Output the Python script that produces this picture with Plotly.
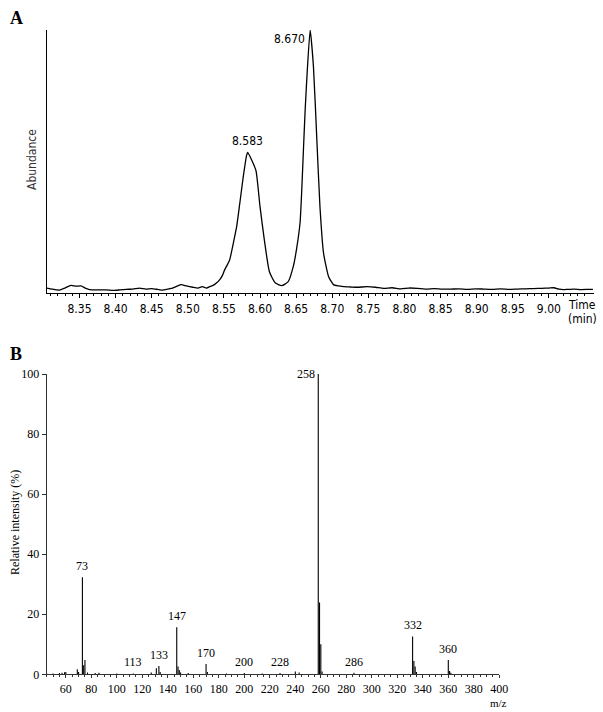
import plotly.graph_objects as go

# ---- panel A: total ion chromatogram ----
rt = [8.305, 8.312, 8.322, 8.330, 8.338, 8.345, 8.352, 8.358, 8.364, 8.375,
      8.387, 8.397, 8.406, 8.415, 8.424, 8.433, 8.442, 8.450, 8.458, 8.465,
      8.472, 8.479, 8.485, 8.491, 8.498, 8.507, 8.514, 8.520, 8.526, 8.531,
      8.535, 8.540, 8.544, 8.548, 8.551, 8.555, 8.558, 8.563, 8.5676, 8.572,
      8.5768, 8.5815, 8.583, 8.5884, 8.5944, 8.600, 8.606, 8.613, 8.621, 8.630,
      8.639, 8.646, 8.651, 8.6555, 8.6576, 8.6602, 8.6625, 8.6649, 8.6694, 8.674,
      8.6787, 8.683, 8.688, 8.695, 8.702, 8.709, 8.716, 8.725, 8.735, 8.748,
      8.760, 8.771, 8.783, 8.795, 8.806, 8.818, 8.830, 8.841, 8.852, 8.864,
      8.876, 8.887, 8.899, 8.910, 8.922, 8.933, 8.945, 8.956, 8.968, 8.979,
      8.990, 9.000, 9.007, 9.014, 9.020, 9.026, 9.035, 9.045, 9.055, 9.061]
abundance = [2.0, 1.6, 1.2, 2.0, 3.0, 2.7, 2.8, 2.0, 1.4, 1.3,
             1.3, 1.1, 1.3, 1.5, 1.6, 2.0, 1.6, 1.8, 1.5, 1.2,
             1.6, 2.0, 2.7, 3.3, 2.8, 2.3, 2.0, 2.5, 2.0, 2.6,
             3.0, 4.0, 5.1, 6.8, 8.9, 11.0, 12.7, 19.0, 25.3, 34.2,
             44.3, 52.5, 53.5, 50.6, 46.6, 32.9, 20.2, 8.2, 4.0, 2.9,
             4.4, 10.1, 17.5, 27.0, 38.0, 55.0, 69.6, 82.0, 100.0, 86.0,
             58.2, 32.9, 15.2, 6.3, 3.2, 2.8, 2.5, 2.4, 2.3, 2.5,
             2.3, 1.9, 2.1, 1.7, 2.0, 1.9, 1.6, 1.8, 1.6, 1.6,
             1.7, 1.5, 1.7, 1.6, 1.5, 1.7, 1.5, 1.6, 1.7, 1.8,
             1.9, 2.0, 2.1, 1.6, 1.4, 1.5, 1.6, 1.4, 1.5, 1.5]
peak_rt = [8.583, 8.6694]
peak_labels = ["8.583", "8.670"]
rt_ticks = [8.35, 8.40, 8.45, 8.50, 8.55, 8.60, 8.65, 8.70, 8.75, 8.80, 8.85, 8.90, 8.95, 9.00]

# ---- panel B: mass spectrum ----
mz = [45, 50, 55, 57, 59, 60, 69, 70, 73, 74, 75, 77, 83, 86, 100, 113, 127,
      131, 133, 134, 147, 148, 149, 150, 156, 170, 171, 186, 200, 214, 228,
      240, 243, 258, 259, 260, 261, 286, 332, 333, 334, 335, 360, 361, 362]
intensity = [0.3, 0.3, 0.4, 0.5, 0.7, 0.8, 1.7, 0.8, 32.3, 3.0, 4.8, 0.6, 0.4,
             0.5, 0.3, 0.3, 0.6, 2.0, 2.8, 0.8, 15.7, 2.6, 1.4, 0.6, 0.4, 3.4,
             0.8, 0.3, 0.4, 0.3, 0.4, 0.9, 0.6, 100.0, 23.9, 10.0, 0.9, 0.5,
             12.6, 4.4, 2.6, 0.8, 4.8, 1.1, 0.5]
labelled_ions = [73, 113, 133, 147, 170, 200, 228, 258, 286, 332, 360]

W, H = 603, 712
mono = "Liberation Sans Narrow, DejaVu Sans Condensed, Liberation Mono"
serif = "Liberation Serif, Times New Roman, serif"

fig = go.Figure()

fig.add_trace(go.Scatter(x=rt, y=abundance, mode="lines",
                         line=dict(color="black", width=1.3, shape="spline", smoothing=0.5),
                         xaxis="x", yaxis="y", showlegend=False, hoverinfo="skip"))

# stick spectrum
sx, sy = [], []
for m, v in zip(mz, intensity):
    sx += [m, m, None]
    sy += [0, v, None]
fig.add_trace(go.Scatter(x=sx, y=sy, mode="lines",
                         line=dict(color="black", width=1.1),
                         xaxis="x2", yaxis="y2", showlegend=False, hoverinfo="skip"))

ann = []
# chromatogram peak labels
for t, lab in zip(peak_rt, peak_labels):
    h = abundance[rt.index(t)]
    if h >= 99:
        ann.append(dict(x=t, y=h, xref="x", yref="y", text=lab, showarrow=False,
                        xanchor="right", yanchor="top", xshift=-3,
                        font=dict(family=mono, size=12, color="black")))
    else:
        ann.append(dict(x=t, y=h, xref="x", yref="y", text=lab, showarrow=False,
                        xanchor="center", yanchor="bottom", yshift=2,
                        font=dict(family=mono, size=12, color="black")))

# spectrum ion labels
for ion in labelled_ions:
    h = intensity[mz.index(ion)]
    if h >= 99:
        ann.append(dict(x=ion, y=h, xref="x2", yref="y2", text=str(ion), showarrow=False,
                        xanchor="right", yanchor="middle", xshift=-1,
                        font=dict(family=serif, size=12, color="black")))
    else:
        ann.append(dict(x=ion, y=h, xref="x2", yref="y2", text=str(ion), showarrow=False,
                        xanchor="center", yanchor="bottom", yshift=2,
                        font=dict(family=serif, size=12, color="black")))


def label(px, py, text, family, size, color="black", angle=0):
    # free text placed by pixel centre
    return dict(x=px / W, y=1 - py / H, xref="paper", yref="paper", text=text,
                xanchor="center", yanchor="middle", textangle=angle, showarrow=False,
                font=dict(family=family, size=size, color=color))


ann += [
    label(16, 18, "<b>A</b>", serif, 18),
    label(16, 354, "<b>B</b>", serif, 18),
    label(32, 160, "Abundance", mono, 12, "#333", -90),
    label(582, 305, "Time", mono, 12),
    label(582, 319, "(min)", mono, 12),
    label(15, 523, "Relative intensity (%)", serif, 12, angle=-90),
    label(498, 703, "m/z", serif, 11),
]

fig.update_layout(
    template="none",
    width=W, height=H,
    margin=dict(l=0, r=0, t=0, b=0, pad=0),
    paper_bgcolor="white", plot_bgcolor="white",
    annotations=ann,
    xaxis=dict(domain=[47 / W, 594 / W], range=[8.305, 9.0625], automargin=False,
               tickvals=rt_ticks, ticktext=["%.2f" % v for v in rt_ticks],
               ticks="outside", ticklen=4, tickwidth=1, tickcolor="black",
               minor=dict(tickvals=[round(8.31 + 0.01 * i, 2) for i in range(75)],
                          ticks="outside", ticklen=2, tickcolor="black"),
               showline=True, linecolor="black", linewidth=1.3, showgrid=False,
               zeroline=False, tickfont=dict(family=mono, size=12, color="black"),
               anchor="y"),
    yaxis=dict(domain=[1 - 293.3 / H, 1 - 30 / H], range=[0, 100], automargin=False,
               showticklabels=False, ticks="", showline=True, linecolor="black",
               linewidth=1.3, showgrid=False, zeroline=False, anchor="x"),
    xaxis2=dict(domain=[46.7 / W, 499.3 / W], range=[45, 400], dtick=20, tick0=0,
                automargin=False,
                ticks="outside", ticklen=3, tickwidth=1, tickcolor="#333",
                minor=dict(dtick=5, ticks="outside", ticklen=2, tickcolor="#333"),
                showline=True, linecolor="#333", linewidth=1.2, showgrid=False,
                zeroline=False, tickfont=dict(family=serif, size=12, color="black"),
                anchor="y2"),
    yaxis2=dict(domain=[1 - 674.3 / H, 1 - 374 / H], range=[0, 100], dtick=20,
                automargin=False,
                ticks="outside", ticklen=4, tickwidth=1, tickcolor="#333",
                showline=True, linecolor="#333", linewidth=1.2, showgrid=False,
                zeroline=False, tickfont=dict(family=serif, size=12, color="black"),
                anchor="x2"),
)

# the page body has a default 8px margin; remove it so the figure fills the window
fig.write_html("out.html", config={"displayModeBar": False},
               post_script="document.body.style.margin='0';")
